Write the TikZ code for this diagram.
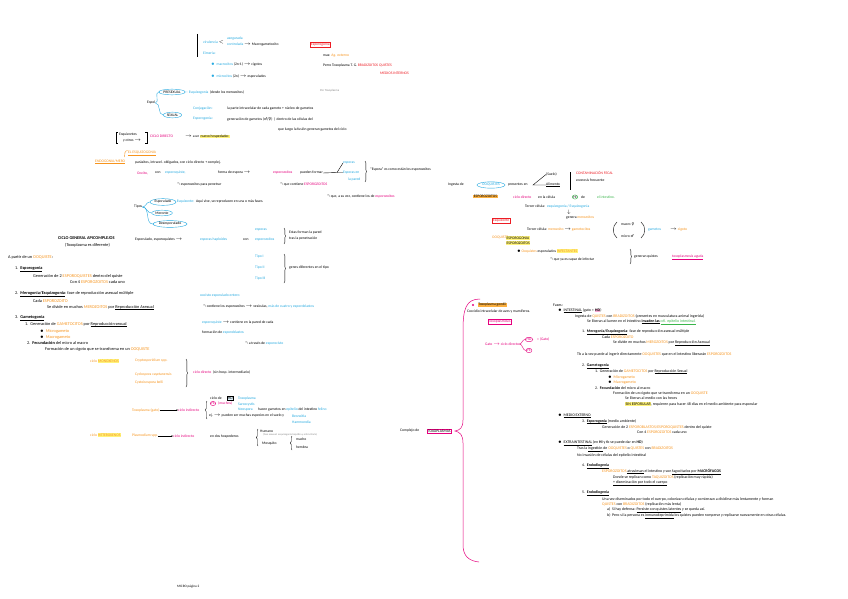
\documentclass[tikz,border=0pt]{standalone}
\usepackage{fontspec}
\setmainfont{Carlito}
\newfontfamily\djv{DejaVu Sans}
\usepackage{amssymb}
\usetikzlibrary{shapes.geometric,decorations.pathreplacing,arrows.meta}
\definecolor{cpink}{HTML}{E6007E}
\definecolor{cpinkl}{HTML}{F7A8D0}
\definecolor{cblue}{HTML}{27AAE1}
\definecolor{corange}{HTML}{F7941D}
\definecolor{cred}{HTML}{ED1C24}
\definecolor{cgreen}{HTML}{39B54A}
\definecolor{cyel}{HTML}{FFF37A}
\definecolor{corhl}{HTML}{FBB040}
\definecolor{cgray}{HTML}{8A8A8A}
\newcommand\hw{\fontsize{3.7}{4.2}\selectfont}
\newcommand\ty{\fontsize{4.3}{5}\selectfont}
\newcommand\tyr{\fontsize{3.9}{4.5}\selectfont}
\newcommand\ar{\ensuremath{\rightarrow}}
\newcommand\hk{\ensuremath{\Lsh}}
\newcommand\tor[1]{\textcolor{corange}{#1}}
\newcommand\tbl[1]{\textcolor{cblue}{#1}}
\newcommand\tpk[1]{\textcolor{cpink}{#1}}
\newcommand\trd[1]{\textcolor{cred}{#1}}
\newcommand\tgr[1]{\textcolor{cgreen}{#1}}
\newcommand\hly[1]{{\setlength{\fboxsep}{0.4pt}\colorbox{cyel}{#1}}}
\newcommand\hlp[1]{{\setlength{\fboxsep}{0.4pt}\colorbox{cpinkl}{#1}}}
\begin{document}
\begin{tikzpicture}[x=1pt,y=-1pt,
  every node/.style={inner sep=0pt,anchor=west,font=\hw},
  tyl/.style={font=\ty},
  tyrt/.style={font=\tyr},
  oval/.style={ellipse,draw=cblue,inner sep=0.8pt,anchor=center},
  boxed/.style={draw,inner sep=0.8pt},
  brc/.style={decorate,decoration={brace,amplitude=1.6pt}},
  >={Stealth[length=1.6pt,width=1.5pt]}]
\fill[white] (0,0) rectangle (848,599);
\useasboundingbox (0,0) rectangle (848,599);

% ---------- top block ----------
\draw (197,34) -- (197,57);
\node (v1) at (203,42) {\tbl{virulencia} $<$};
\node (v2) at (227,38.5) {\tbl{asegurada}};
\node (v3) at (227,45) {\tbl{controlada} \ar\ Macrogametocito};
\node (v4) at (203,53) {\tbl{Eimeria:}};
\node (v5) at (211,64.5) {\tbl{$\bullet$\ \ macrocitos} (2n-1) \ar\ cigotos};
\node (v6) at (211,76) {\tbl{$\bullet$\ \ microcitos} (2n) \ar\ esporulados};
\node[boxed,draw=cred,text=cred] (e1) at (310,45) {Esporogonia};
\node (m1) at (323,56) {mas: \tor{Ag. externo}};
\node (m2) at (323,66) {Perro Toxoplasma T. G. \trd{BRADIZOITOS QUISTES}};
\node (m3) at (380,73) {\trd{MEDIOS INTERNOS}};
\node[text=cgray,font=\fontsize{3}{3.5}\selectfont] (m4) at (320,91) {Por Toxoplasma};

\node[oval] (pre) at (172,92) {PRESEXUAL};
\node (esq) at (186,92) {\tbl{-- Esquizogonia} \ (desde los merozoitos)};
\node (espol) at (147,103) {Espol};
\node[oval] (sex) at (172.5,115) {SEXUAL};
\draw[cblue] (espol.east) to[out=0,in=180] (pre.west);
\draw[cblue] (espol.east) to[out=0,in=180] (sex.west);
\node (cj) at (193,109) {\tbl{Conjugación:}};
\node (cj2) at (227,109) {la parte intracelular de cada gameto + núcleo de gametos};
\node (eg) at (193,119) {\tbl{Esporogonia:}};
\node (eg2) at (227,119) {generación de gametos ({\djv ♂/♀}) \ | dentro de las células del};
\node (q1) at (278,130) {que luego la fusión generan gametos del ciclo};

% ---------- bracket / ciclo directo ----------
\draw (118,132) -- (116,132) -- (116,143) -- (118,143);
\node (b1) at (119,135) {Esquizontes};
\node (b2) at (123,141) {y otros \ar};
\draw (145,132) -- (147,132) -- (147,143) -- (145,143);
\node (cd) at (150,136.5) {\tpk{CICLO DIRECTO}};
\node (cd2) at (185,136.5) {\ar\ a un \hly{nuevo hospedador.}};

\draw[corange] (124.5,157) to[out=90,in=180] (127.5,150.5);
\node (ez) at (128,153) {\tor{\underline{EL ESQUIZOGONIA}}};
\node (exo) at (95,162) {\tor{\underline{ENDOGONIA/MERO}}};
\node (l1) at (135,163) {parásitos, intracel. obligados, con ciclo directo + complej.};
\node (l2a) at (137,173) {\tpk{Oocito,}};
\node (l2b) at (155,173) {con};
\node (l2c) at (165,173) {\tbl{esporoquiste,}};
\node (l2d) at (218,173) {forma de espora \ar};
\node (l2e) at (273,173) {\tpk{esporozoitos}};
\node (l2f) at (300,173) {pueden formar};
\coordinate (br1) at (337,172.5);
\node (sp1) at (343,163) {\tbl{esporas}};
\node (sp2) at (343,172.5) {\tbl{Esporas en}};
\node (sp3) at (348,179.5) {\tbl{la pared}};
\draw (l2f.east) -- (br1);
\draw (sp1.west) -- (br1) -- (sp2.west);
\draw[brc] (365,161) -- (365,182);
\node (sp4) at (370,169.5) {``Espora'' es como están los esporozoitos};
\node (l3) at (177,185) {\hk\ esporozoitos para penetrar};
\node (l4) at (280,185) {\hk\ que contiene \tpk{ESPOROZOITOS}};
\node (l5) at (327,196.5) {\hk\ que, a su vez, contiene los de \tpk{esporozoitos}};

% ---------- tipos ----------
\node (tp) at (134,207) {Tipos};
\node[oval] (t1) at (163,202) {Esporulado};
\node[oval] (t2) at (162,213) {Meronte};
\node[oval] (t3) at (170,224) {Desesporulado};
\draw[cblue] (tp.east) to[out=0,in=180] (t1.west);
\draw[cblue] (tp.east) to[out=0,in=180] (t2.west);
\draw[cblue] (tp.east) to[out=0,in=180] (t3.west);
\node (t1b) at (174,201.5) {\tbl{-- Esquizonte:} \ Aquí vive, se reproducen en una o más fases.};

% ---------- ciclo general ----------
\node[font=\ty\bfseries] (cg) at (58,238) {CICLO GENERAL APICOMPLEJOS};
\node[tyl] (cg2) at (65,245) {(Toxoplasma es diferente)};
\node (ep) at (135,240) {Esporulado, esporoquistes \ar};
\node (ep2) at (200,240) {\tbl{esporas haploides}};
\node (ep3) at (243,240) {con};
\node (ep4) at (255,240) {\tbl{esporozoitos}};
\node (ep5) at (255,230) {\tbl{esporas}};
\draw[brc] (284,228) -- (284,244);
\node (ep6) at (289,233) {Estas forman la pared};
\node (ep7) at (289,239) {tras la penetración};

\node[tyl] (a0) at (8,257) {A partir de un \tor{OOQUISTE}:};
\node[tyl] (a1) at (15,269) {1.\ \ \textbf{\underline{Esporogonia}}};
\node[tyl] (a2) at (33,276) {Generación de 2 \tor{ESPOROQUISTES} dentro del quiste};
\node[tyl] (a3) at (70,282) {Con 4 \tor{ESPOROZOITOS} cada uno};
\node[tyl] (a4) at (15,294) {2.\ \ \textbf{\underline{Merogonia/Esquizogonia}}: fase de reproducción asexual múltiple};
\node[tyl] (a5) at (33,301) {Cada \tor{ESPOROZOITO}};
\node[tyl] (a6) at (47,307.5) {Se divide en muchos \tor{MEROZOITOS} por \underline{Reproducción Asexual}};
\node[tyl] (a7) at (15,318) {3.\ \ \textbf{\underline{Gametogonia}}};
\node[tyl] (a8) at (25,324.5) {1.\ \ Generación de \tor{GAMETOCITOS} por \underline{Reproducción sexual}};
\node[tyl] (a9) at (40,331) {$\bullet$\ \ \tor{Microgameto}};
\node[tyl] (a10) at (40,337.5) {$\bullet$\ \ \tor{Macrogameto}};
\node[tyl] (a11) at (27,343.5) {2.\ \ \textbf{Fecundación} del micro al macro};
\node[tyl] (a12) at (45,349.5) {Formación de un cigoto que se transforma en un \tor{OOQUISTE}};

\node (ty1) at (255,257) {\tbl{Tipo I}};
\node (ty2) at (255,268) {\tbl{Tipo II}};
\node (ty3) at (255,279) {\tbl{Tipo III}};
\draw[brc] (284,254) -- (284,283);
\node (ty4) at (289,268) {genes diferentes en el tipo};

\node (c1) at (200,296) {\tbl{oocisto esporulado entero}};
\node (c2) at (203,306.5) {\hk\ contiene los esporozoitos \ar\ vesículas, \tbl{más de cuatro y esporoblastos}};
\node (c3) at (202,323) {\tbl{esporoquiste} \ar\ contiene en la pared de cada};
\node (c4) at (202,333) {formación de \tbl{esporoblastos}};
\node (c5) at (245,344) {\hk\ a través de \tbl{esporocisto}};

% ---------- lower left ----------
\node (g1l) at (90,361) {\tor{ciclo} \hly{\tor{MONOXENOS}}};
\node (g1a) at (135,361) {\tor{Cryptosporidium spp.}};
\node (g1b) at (135,375) {\tor{Cyclospora cayetanensis}};
\node (g1c) at (135,383) {\tor{Cystoisospora belli}};
\draw[brc] (186,359) -- (186,387);
\node (g1d) at (193,372) {\tpk{ciclo directo} \ (sin hosp. intermediario)};

\node (g2a) at (132,410) {\tor{Toxoplasma (gato)}};
\node (g2c) at (178,410) {\tpk{ciclo indirecto}};
\draw[->] (g2a) -- (g2c);
\draw[brc] (207,419) -- (207,401);
\node (g2d) at (210,398) {ciclo de};
\node[boxed,fill=cblue!15] (g2e) at (227,398) {HD};
\node (g2f) at (238,398.5) {\tbl{Toxoplasma}};
\node[ellipse,draw=cpink,inner sep=0.3pt,anchor=center] (g2g) at (213,403.5) {\tpk{HI}};
\node (g2h) at (218,403.5) {\tpk{(muchos)}};
\node (g2i) at (238,404.5) {\tbl{Sarcocystis}};
\node (g2j) at (238,410) {\tbl{Neospora}};
\node (g2k) at (258,410) {hacen gametos en \tbl{epitelio} del intestino \tbl{felino}};
\node (g2l) at (209,416) {ej. \ar\ pueden ser muchas especies en el suelo y};
\node (g2m) at (292,416) {\tbl{Besnoitia}};
\node (g2n) at (292,422) {\tbl{Hammondia}};

\node (g3l) at (90,435) {\tor{ciclo} \hly{\tor{HETEROXENOS}}};
\node (g3a) at (132,436) {\tor{Plasmodium spp.}};
\node (g3c) at (173,436) {\tpk{ciclo indirecto}};
\draw[->] (g3a) -- (g3c);
\node (g3d) at (210,437) {en dos hospederos};
\draw[brc] (258,446) -- (258,429);
\node (g3e) at (260,431) {Humano};
\node[text=cgray,font=\fontsize{2.6}{3}\selectfont] (g3f) at (263,434.5) {(fase asexual: esquizogonia hepática y eritrocitaria)};
\node (g3g) at (262,443.5) {Mosquito};
\draw[brc] (292,450) -- (292,436);
\node (g3h) at (296,439) {macho};
\node (g3i) at (296,447) {hembra};

% ---------- centre: complejo ----------
\node (cx) at (400,431) {Complejo de};
\node[boxed,draw=cpink] (cx2) at (427,431) {TOXOPLASMAS};
\draw[cpink,line width=0.5pt] (480,299) .. controls (466,299) and (463,309) .. (463,330)
  -- (463,420) .. controls (463,428) and (460,430) .. (455,431)
  .. controls (460,432) and (463,435) .. (463,443)
  -- (463,545) .. controls (463,556) and (469,561) .. (479,562);

\fill[cpink] (473,305) circle (1.1);
\node[fill=corhl,inner sep=0.6pt] (tg) at (477.5,305) {Toxoplasma gondii};
\node (tg2) at (467,312) {Coccidio intracelular de aves y mamíferos.};
\node[boxed,draw=cpink,text=cpink] (tg3) at (488,322) {Toxoplasmosis};
\node (gt) at (485,344) {\tpk{Gato \ar\ ciclo directo}};
\node[ellipse,draw=cpink,inner sep=0.4pt,anchor=center] (hd) at (529,339.5) {\tpk{HD}};
\node[ellipse,draw=cpink,inner sep=0.4pt,anchor=center] (hi) at (529,350.5) {\tpk{HI}};
\draw[cpink] (gt.east) to[out=0,in=180] (hd.west);
\draw[cpink] (gt.east) to[out=0,in=180] (hi.west);
\node (hd2) at (537,339.5) {\tpk{= (Gato)}};

% ---------- right typed block ----------
\node[tyrt] (f0) at (553,305) {Fases:};
\node[tyrt] (f1) at (558,310.5) {$\bullet$\ \ \underline{INTESTINAL} (gato = \hlp{\textbf{HD}})};
\node[tyrt] (f2) at (575,316) {Ingesta de \tor{QUISTES} con \tor{BRADIZOITOS} (presentes en musculatura animal ingerida)};
\node[tyrt] (f3) at (587,322) {Se liberan al lumen en el intestino \underline{\textbf{invaden las}} \tgr{\underline{cél. epitelio intestinal.}}};
\node[tyrt] (f4) at (582,332) {1.\ \ \textbf{\underline{Merogonia/Esquizogonia}}: fase de reproducción asexual múltiple};
\node[tyrt] (f5) at (602,337.5) {Cada \tor{ESPOROZOITO}};
\node[tyrt] (f6) at (613,343) {Se divide en muchos \tor{MEROZOITOS} por \underline{Reproducción Asexual}};
\node[tyrt] (f7) at (577,354) {Tb a la vez puede al ingerir directamente \tor{OOQUISTES} que en el intestino liberarán \tor{ESPOROZOITOS}};
\node[tyrt] (f8) at (582,366) {2.\ \ \textbf{\underline{Gametogonia}}};
\node[tyrt] (f9) at (595,371.5) {1.\ \ Generación de \tor{GAMETOCITOS} por \underline{Reproducción Sexual}};
\node[tyrt] (f10) at (608,377) {$\bullet$\ \ \tor{Microgameto}};
\node[tyrt] (f11) at (608,382.5) {$\bullet$\ \ \tor{Macrogameto}};
\node[tyrt] (f12) at (595,388) {2.\ \ \textbf{Fecundación} del micro al macro};
\node[tyrt] (f13) at (613,393.5) {Formación de un cigoto que se transforma en un \tor{OOQUISTE}};
\node[tyrt] (f14) at (625,398.5) {Se liberan al medio con las heces};
\node[tyrt] (f15) at (625,404) {\hly{SIN ESPORULAR}, requieren para hacer 48 días en el medio ambiente para esporular};
\node[tyrt] (f16) at (558,416) {$\bullet$\ \ \underline{MEDIO EXTERNO}};
\node[tyrt] (f17) at (582,421.5) {3.\ \ \textbf{\underline{Esporogonia}} (medio ambiente)};
\node[tyrt] (f18) at (602,427) {Generación de 2 \tor{ESPOROBLASTOS/ESPOROQUISTES} dentro del quiste};
\node[tyrt] (f19) at (637,432.5) {Con 4 \tor{ESPOROZOITOS} cada uno};
\node[tyrt] (f20) at (558,443) {$\bullet$\ \ \underline{EXTRAINTESTINAL} (en \textbf{HI} y tb se puede dar en \textbf{HD})};
\node[tyrt] (f21) at (577,449) {Tras la \underline{ingestión} de \tor{OOQUISTES} o \tor{QUISTES} con \tor{BRADIZOITOS}};
\node[tyrt] (f22) at (577,455) {No invasión de células del epitelio intestinal};
\node[tyrt] (f23) at (582,466) {4.\ \ \textbf{\underline{Endodiogenia}}};
\node[tyrt] (f24) at (602,472) {\tor{ESPOROZOITOS} \underline{atraviesan} el intestino y son \underline{fagocitados por \textbf{MACRÓFAGOS}}};
\node[tyrt] (f25) at (613,477.5) {Donde se replican como \tor{TAQUIZOITOS} (replicación muy rápida)};
\node[tyrt] (f26) at (613,483) {\underline{+ diseminación por todo el cuerpo}};
\node[tyrt] (f27) at (582,493) {5.\ \ \textbf{\underline{Endodiogenia}}};
\node[tyrt] (f28) at (602,499) {Una vez diseminados por todo el cuerpo, colonizan células y comienzan a dividirse más lentamente y forman};
\node[tyrt] (f29) at (602,504.5) {\tor{QUISTES} con \tor{BRADIZOITOS} (replicación más lenta)};
\node[tyrt] (f30) at (607,510) {a)\ \ Si hay defensa: \underline{Persiste con quistes latentes} y se queda así.};
\node[tyrt] (f31) at (607,516) {b)\ \ Pero si la persona es \underline{inmunodeprimida} los quistes pueden romperse y replicarse nuevamente en otras células.};

% ---------- upper right ----------
\node (u1) at (448,185) {Ingesta de};
\node[oval,minimum width=28pt] (u2) at (491,185) {\tbl{OOQUISTES}};
\node (u3) at (508,185) {presentes en};
\coordinate (u4) at (533,185);
\node (u5) at (546,174.5) {(Suelo)};
\node (u6) at (546,185) {\underline{Alimento}};
\draw (u5.west) -- (u4) -- (u6.west);
\draw (570,172) -- (570,190);
\node (u7) at (576,173) {\trd{CONTAMINACIÓN FECAL}};
\node (u8) at (576,180) {zoonosis frecuente};
\node[fill=corhl,inner sep=0.7pt] (u9) at (473,196.5) {ESPOROZOITOS};
\node (u10) at (513,197) {\tpk{ciclo directo}};
\node (u11) at (538,197) {en la célula};
\node[ellipse,draw=cgreen,inner sep=0.3pt,anchor=center] (u12) at (575,197) {HI};
\node (u13) at (581,197) {de};
\node (u14) at (597,197) {\tgr{el intestino.}};
\node (u15) at (525,207) {Tercer célula: \ \tbl{esquizogonia / Esquizogonia}};
\node (u16) at (567,212.5) {\ensuremath{\downarrow}};
\node (u17) at (566,218) {genera \tor{merozoitos}};
\node[boxed,draw=cred,text=cred] (u18) at (492,221) {Esquizonte};
\node (u19) at (527,230) {Tercer célula: \tor{merozoito} \ar\ \tor{gametocitos}};
\draw (617,222) .. controls (612,226) and (612,234) .. (617,238);
\node (u20) at (621,224) {macro {\djv ♀}};
\node (u21) at (621,236) {micro {\djv ♂}};
\draw (641,222) .. controls (646,226) and (646,234) .. (641,238);
\node (u22) at (648,230) {\tbl{gametos}};
\node (u23) at (670,230) {\ar\ \tor{cigoto}};
\node (u24) at (492,238) {\tor{OOQUISTE}};
\node[fill=cyel,inner sep=0.5pt] (u25) at (506,238) {ESPOROGONIA};
\node[fill=cyel,inner sep=0.5pt] (u26) at (506,243) {ESPOROZOITOS};
\node (u27) at (517,251) {$\bullet$ \tor{Ooquistes} esporulados \hly{\tor{INFECTANTES}}};
\node (u28) at (550,260) {\hk\ que ya es capaz de infectar};
\draw[brc] (630,249) -- (630,264);
\node (u29) at (634,257) {generan quistes};
\node (u30) at (672,257) {\tpk{\underline{toxoplasmosis aguda}}};

\node[font=\fontsize{3.4}{4}\selectfont] (pg) at (177,587) {MICRO página 2};
\end{tikzpicture}
\end{document}
